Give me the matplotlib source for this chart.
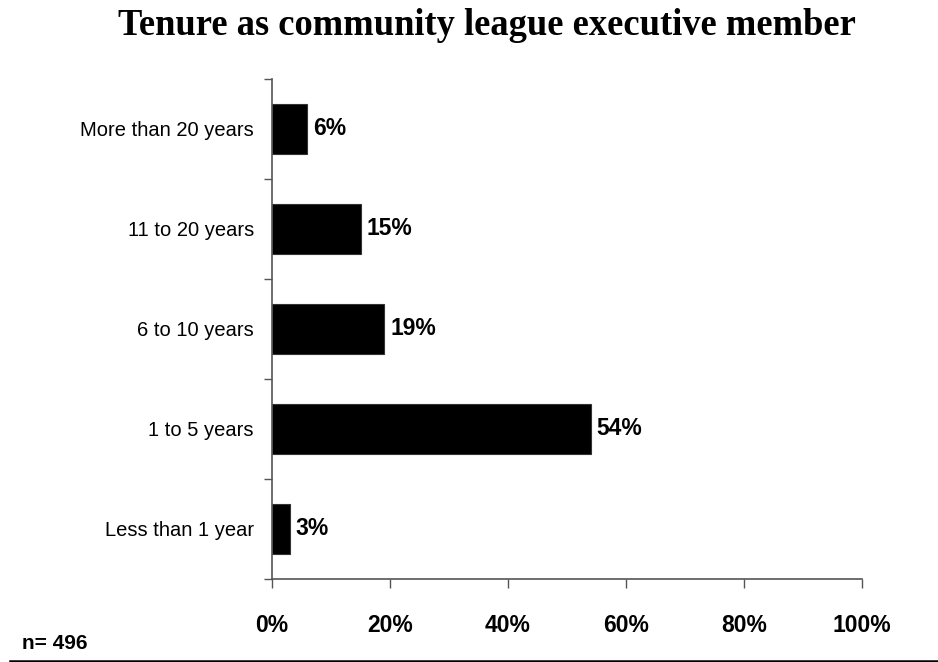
import numpy as np
import matplotlib
matplotlib.use("Agg")
import matplotlib.pyplot as plt
from matplotlib.ticker import FixedLocator

categories = ["Less than 1 year", "1 to 5 years", "6 to 10 years",
              "11 to 20 years", "More than 20 years"]
shares = [3, 54, 19, 15, 6]
x_ticks = [0, 20, 40, 60, 80, 100]
sample_note = "n= 496"
title = "Tenure as community league executive member"

plt.rcParams["font.family"] = ["Liberation Sans", "DejaVu Sans"]

fig = plt.figure(figsize=(9.38, 6.62), dpi=100)
ax = fig.add_axes([0.29, 0.1254, 0.629, 0.7553])

pos = np.arange(len(categories))
ax.barh(pos, shares, height=0.5, color="black", edgecolor="#333333", linewidth=0.8)

for y, v in zip(pos, shares):
    ax.text(v + 1.0, y, f"{v}%", va="center", ha="left",
            fontsize=16.5, fontweight="bold")

ax.set_xlim(0, 100)
ax.set_ylim(-0.5, len(categories) - 0.5)

ax.set_yticks(pos)
ax.set_yticklabels(categories, fontsize=14.5)
ax.yaxis.set_minor_locator(FixedLocator(np.arange(-0.5, len(categories), 1.0)))
ax.tick_params(axis="y", which="major", length=0, pad=13)
ax.tick_params(axis="y", which="minor", length=5.5, width=1.0, color="#555555")

ax.set_xticks(x_ticks)
ax.set_xticklabels([f"{t}%" for t in x_ticks], fontsize=16.5, fontweight="bold")
ax.tick_params(axis="x", length=6.5, width=1.0, color="#555555", pad=19)

for side in ("top", "right"):
    ax.spines[side].set_visible(False)
for side in ("left", "bottom"):
    ax.spines[side].set_color("#555555")
    ax.spines[side].set_linewidth(1.2)

fig.text(0.519, 0.947, title, ha="center", va="baseline",
         fontsize=26.3, fontweight="bold", family=["Liberation Serif", "DejaVu Serif"])
fig.text(0.023, 0.019, sample_note, ha="left", va="baseline",
         fontsize=15, fontweight="bold")

# rule along the bottom of the page
fig.add_artist(plt.Line2D([0.011, 1.0], [0.0015, 0.0015], color="black",
                          linewidth=1.8, transform=fig.transFigure))

fig.savefig("out.png", dpi=100)
